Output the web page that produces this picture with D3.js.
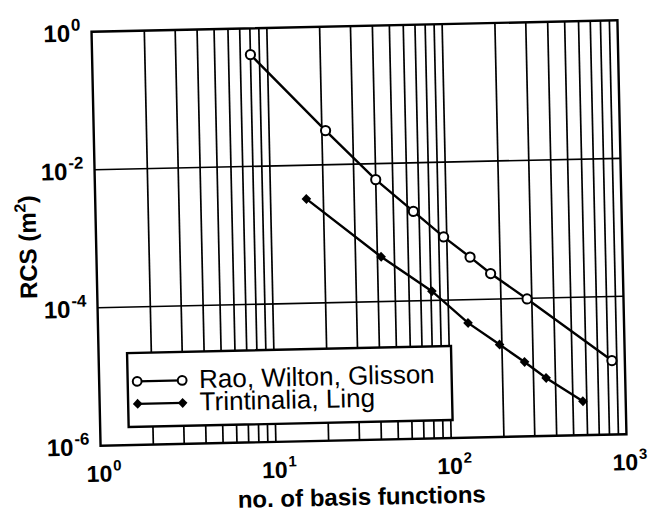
<!DOCTYPE html>
<html>
<head>
<meta charset="utf-8">
<script src="https://cdn.jsdelivr.net/npm/d3@7"></script>
<style>
  html, body { margin: 0; padding: 0; background: #fff; }
  svg { display: block; }
  text { font-family: "Liberation Sans", Arial, Helvetica, sans-serif; fill: #000; }
</style>
</head>
<body>
<svg id="chart" width="648" height="515"></svg>
<script>
// ---- data ----
const raoN   = [8, 21, 40, 65, 96, 135, 176, 282, 844];
const raoRCS = [0.416, 0.0312, 0.00587, 0.00198, 8.25e-4, 4.13e-4, 2.35e-4, 9.8e-5, 1.18e-5];
const tlN    = [16, 42, 81, 129, 194, 268, 354, 570];
const tlRCS  = [3.24e-3, 4.45e-4, 1.36e-4, 4.6e-5, 2.18e-5, 1.2e-5, 6.94e-6, 3.1e-6];

const xTickValues = [1, 10, 100, 1000];
const xTickExp    = ["0", "1", "2", "3"];
const yTickValues = [1, 1e-2, 1e-4, 1e-6];
const yTickExp    = ["0", "-2", "-4", "-6"];
const yGridValues = [1e-2, 1e-4];

const seriesNames = ["Rao, Wilton, Glisson", "Trintinalia, Ling"];
const xTitle = "no. of basis functions";

// ---- layout ----
const W = 648, H = 515;
const pL = 96, pR = 622, pT = 26, pB = 440;
const cx = 359.2, cy = 233.4, tilt = -1.25;
const font = '"Liberation Sans", Arial, Helvetica, sans-serif';

const svg = d3.select("#chart");
svg.append("rect").attr("width", W).attr("height", H).attr("fill", "#fff");
const g = svg.append("g").attr("transform", `rotate(${tilt},${cx},${cy})`);

const x = d3.scaleLog().domain([1, 1000]).range([pL, pR]);
const y = d3.scaleLog().domain([1e-6, 1]).range([pB, pT]);

// vertical grid lines at every minor/major decade step
const xGrid = x.ticks().filter(v => v > 1 && v < 1000);
g.append("g").selectAll("line").data(xGrid).join("line")
  .attr("x1", d => x(d)).attr("x2", d => x(d))
  .attr("y1", pT).attr("y2", pB)
  .attr("stroke", "#000").attr("stroke-width", 1.7);

g.append("g").selectAll("line").data(yGridValues).join("line")
  .attr("x1", pL).attr("x2", pR)
  .attr("y1", d => y(d)).attr("y2", d => y(d))
  .attr("stroke", "#000").attr("stroke-width", 1.7);

// frame
g.append("rect").attr("x", pL).attr("y", pT)
  .attr("width", pR - pL).attr("height", pB - pT)
  .attr("fill", "none").attr("stroke", "#000").attr("stroke-width", 2.4);

// x axis (labels only)
const xAxis = g.append("g").attr("transform", `translate(0,${pB})`)
  .call(d3.axisBottom(x).tickValues(xTickValues).tickSize(0).tickPadding(0).tickFormat(() => ""));
xAxis.select(".domain").remove();
xAxis.selectAll(".tick").each(function(d, i) {
  const t = d3.select(this).select("text")
    .attr("y", 36).attr("dy", null).attr("x", -15)
    .attr("text-anchor", "start")
    .style("font-family", font).style("font-weight", "bold").style("font-size", "23px");
  t.text(null);
  t.append("tspan").text("10");
  t.append("tspan").attr("dy", -11).attr("dx", 1).style("font-size", "15px").text(xTickExp[i]);
});

// y axis (labels only)
const yAxis = g.append("g").attr("transform", `translate(${pL},0)`)
  .call(d3.axisLeft(y).tickValues(yTickValues).tickSize(0).tickPadding(0).tickFormat(() => ""));
yAxis.select(".domain").remove();
yAxis.selectAll(".tick").each(function(d, i) {
  const t = d3.select(this).select("text")
    .attr("x", -11).attr("dy", null).attr("y", 9)
    .attr("text-anchor", "end")
    .style("font-family", font).style("font-weight", "bold").style("font-size", "24px");
  t.text(null);
  t.append("tspan").text("10");
  t.append("tspan").attr("dy", -11).attr("dx", 1).style("font-size", "17px").text(yTickExp[i]);
});

// axis titles
g.append("text").attr("x", 356).attr("y", 505)
  .attr("text-anchor", "middle")
  .style("font-weight", "bold").style("font-size", "24px")
  .text(xTitle);

const yt = g.append("text")
  .attr("transform", `translate(36,240) rotate(-90)`)
  .attr("text-anchor", "middle")
  .style("font-weight", "bold").style("font-size", "24px");
yt.append("tspan").text("RCS (m");
yt.append("tspan").attr("dy", -10).style("font-size", "16px").text("2");
yt.append("tspan").attr("dy", 10).text(")");

// series
const raoData = raoN.map((n, i) => [n, raoRCS[i]]);
const tlData  = tlN.map((n, i) => [n, tlRCS[i]]);
const line = d3.line().x(d => x(d[0])).y(d => y(d[1]));

g.append("path").datum(raoData).attr("d", line)
  .attr("fill", "none").attr("stroke", "#000").attr("stroke-width", 2.4);
g.append("path").datum(tlData).attr("d", line)
  .attr("fill", "none").attr("stroke", "#000").attr("stroke-width", 2.4);

const diamond = "M0,-5L4.8,0L0,5L-4.8,0Z";

g.append("g").selectAll("circle").data(raoData).join("circle")
  .attr("cx", d => x(d[0])).attr("cy", d => y(d[1])).attr("r", 4.6)
  .attr("fill", "#fff").attr("stroke", "#000").attr("stroke-width", 2);

g.append("g").selectAll("path").data(tlData).join("path")
  .attr("transform", d => `translate(${x(d[0])},${y(d[1])})`)
  .attr("d", diamond).attr("fill", "#000");

// legend
const lg = g.append("g");
lg.append("rect").attr("x", 124.5).attr("y", 348).attr("width", 324).attr("height", 74)
  .attr("fill", "#fff").attr("stroke", "#000").attr("stroke-width", 2.4);
const rows = [376.5, 399];
const lx1 = 134, lx2 = 179;
// row 1
lg.append("line").attr("x1", lx1).attr("x2", lx2).attr("y1", rows[0]).attr("y2", rows[0])
  .attr("stroke", "#000").attr("stroke-width", 2.2);
[lx1, lx2].forEach(px => lg.append("circle").attr("cx", px).attr("cy", rows[0]).attr("r", 4.4)
  .attr("fill", "#fff").attr("stroke", "#000").attr("stroke-width", 2));
// row 2
lg.append("line").attr("x1", lx1).attr("x2", lx2).attr("y1", rows[1]).attr("y2", rows[1])
  .attr("stroke", "#000").attr("stroke-width", 2.2);
[lx1, lx2].forEach(px => lg.append("path").attr("transform", `translate(${px},${rows[1]})`)
  .attr("d", diamond).attr("fill", "#000"));
seriesNames.forEach((s, i) => {
  lg.append("text").attr("x", 196).attr("y", rows[i] + 8)
    .style("font-size", "26px").text(s);
});
</script>
</body>
</html>
